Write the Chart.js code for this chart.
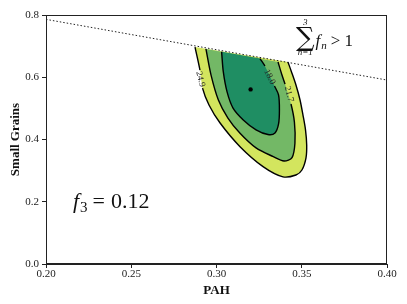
<!DOCTYPE html>
<html>
<head>
<meta charset="utf-8">
<script src="https://cdn.jsdelivr.net/npm/chart.js@4/dist/chart.umd.min.js"></script>
<style>
  html, body { margin: 0; padding: 0; background: #fff; }
  #wrap { width: 407px; height: 304px; }
</style>
</head>
<body>
<div id="wrap"><canvas id="chart" width="407" height="304"></canvas></div>
<script>
// contour levels
const levels = ['24.9', '21.7', '18.0'];
const levelColors = ['#d3e55e', '#73b866', '#1f8e63'];

// outer contour (24.9), from top-left round the bottom to top-right
const outerX = [0.2874, 0.2903, 0.2918, 0.2956, 0.3021, 0.3138, 0.3273, 0.3390, 0.3466, 0.3501, 0.3525, 0.3529, 0.3522, 0.3507, 0.3490, 0.3466, 0.3440, 0.3419];
const outerY = [0.697, 0.623, 0.565, 0.511, 0.453, 0.377, 0.313, 0.280, 0.286, 0.302, 0.341, 0.382, 0.431, 0.479, 0.527, 0.575, 0.617, 0.649];

// middle contour (21.7)
const middleX = [0.2938, 0.2968, 0.3011, 0.3067, 0.3138, 0.3232, 0.3333, 0.3396, 0.3443, 0.3460, 0.3457, 0.3437, 0.3402, 0.3384, 0.3361];
const middleY = [0.691, 0.607, 0.527, 0.469, 0.420, 0.373, 0.345, 0.331, 0.342, 0.388, 0.456, 0.514, 0.578, 0.607, 0.649];

// inner contour (18.0)
const innerX = [0.3030, 0.3040, 0.3062, 0.3097, 0.3157, 0.3232, 0.3302, 0.3343, 0.3364, 0.3369, 0.3364, 0.3340, 0.3284, 0.3255];
const innerY = [0.682, 0.617, 0.553, 0.501, 0.463, 0.431, 0.416, 0.421, 0.450, 0.495, 0.543, 0.572, 0.636, 0.660];

// segment of each contour line left open for its label
const labelGaps = [1, 11, 11];
const labelX = [0.2906, 0.3425, 0.3312];
const labelY = [0.594, 0.546, 0.601];
const labelAngle = [76, 75, 64];

// best fit and the sum(f_n) = 1 boundary
const bestX = [0.320];
const bestY = [0.561];
const limitX = [0.20, 0.40];
const limitY = [0.786, 0.591];

const xTicks = [0.20, 0.25, 0.30, 0.35, 0.40];
const yTicks = [0.0, 0.2, 0.4, 0.6, 0.8];

function toPoints(xs, ys) {
    return xs.map((v, i) => ({x: v, y: ys[i]}));
}

// filled band, no outline
function bandSet(xs, ys, k) {
    return {
        data: toPoints(xs, ys),
        showLine: true,
        fill: 'shape',
        backgroundColor: levelColors[k],
        borderColor: 'rgba(0,0,0,0)',
        borderWidth: 0,
        tension: 0.3,
        pointRadius: 0,
        order: 20 - k
    };
}

// contour line with a break where the label sits
function lineSet(xs, ys, k) {
    return {
        data: toPoints(xs, ys),
        showLine: true,
        fill: false,
        borderColor: '#000',
        borderWidth: 1.4,
        tension: 0.3,
        pointRadius: 0,
        order: 5,
        segment: {
            borderColor: c => c.p0DataIndex === labelGaps[k] ? 'rgba(0,0,0,0)' : '#000'
        }
    };
}

const serif = "'Liberation Serif', 'Times New Roman', serif";
const ink = '#222';

const extras = {
    id: 'extras',
    afterDatasetsDraw(chart) {
        const {ctx, chartArea: a, scales: {x, y}} = chart;
        ctx.save();

        // top and right spines
        ctx.strokeStyle = ink;
        ctx.lineWidth = 1;
        ctx.strokeRect(a.left + 0.5, a.top + 0.5, a.right - a.left - 1, a.bottom - a.top - 1);

        // contour labels
        ctx.fillStyle = ink;
        ctx.font = `9px ${serif}`;
        ctx.textAlign = 'center';
        ctx.textBaseline = 'middle';
        levels.forEach((t, i) => {
            ctx.save();
            ctx.translate(x.getPixelForValue(labelX[i]), y.getPixelForValue(labelY[i]));
            ctx.rotate(labelAngle[i] * Math.PI / 180);
            ctx.fillText(t, 0, 0);
            ctx.restore();
        });

        // f_3 = 0.12
        ctx.fillStyle = '#111';
        ctx.textAlign = 'left';
        ctx.textBaseline = 'alphabetic';
        let px = x.getPixelForValue(0.2158);
        const py = y.getPixelForValue(0.180);
        ctx.font = `italic 22px ${serif}`;
        ctx.fillText('f', px, py);
        px += ctx.measureText('f').width + 1;
        ctx.font = `15px ${serif}`;
        ctx.fillText('3', px, py + 4);
        px += ctx.measureText('3').width + 5;
        ctx.font = `22px ${serif}`;
        ctx.fillText('=', px, py);
        px += ctx.measureText('=').width + 6;
        ctx.fillText('0.12', px, py);

        // sum_{n=1}^{3} f_n > 1
        const sx = x.getPixelForValue(0.3466);
        const sy = 46;
        ctx.font = `26px 'DejaVu Serif', serif`;
        ctx.textAlign = 'center';
        const sw = ctx.measureText('\u2211').width;
        ctx.fillText('\u2211', sx + sw / 2, sy);
        ctx.font = `italic 9px ${serif}`;
        ctx.fillText('3', sx + sw / 2, sy - 21);
        ctx.fillText('n=1', sx + sw / 2, sy + 9);
        ctx.textAlign = 'left';
        let tx = sx + sw + 1;
        ctx.font = `italic 17px ${serif}`;
        ctx.fillText('f', tx, sy);
        tx += ctx.measureText('f').width + 1;
        ctx.font = `italic 11px ${serif}`;
        ctx.fillText('n', tx, sy + 3);
        tx += ctx.measureText('n').width + 4;
        ctx.font = `17px ${serif}`;
        ctx.fillText('> 1', tx, sy);

        ctx.restore();
    }
};

const ctx = document.getElementById('chart').getContext('2d');
new Chart(ctx, {
    type: 'scatter',
    data: {
        datasets: [
            bandSet(outerX, outerY, 0),
            bandSet(middleX, middleY, 1),
            bandSet(innerX, innerY, 2),
            lineSet(outerX, outerY, 0),
            lineSet(middleX, middleY, 1),
            lineSet(innerX, innerY, 2),
            {
                data: toPoints(limitX, limitY),
                showLine: true,
                borderColor: ink,
                borderWidth: 1,
                borderDash: [1.5, 2],
                pointRadius: 0,
                order: 1
            },
            {
                data: toPoints(bestX, bestY),
                pointRadius: 2.2,
                pointBackgroundColor: '#000',
                pointBorderWidth: 0,
                order: 0
            }
        ]
    },
    options: {
        responsive: false,
        animation: false,
        layout: { padding: { top: 15, right: 20, left: 0, bottom: 0 } },
        plugins: { legend: { display: false }, tooltip: { enabled: false } },
        scales: {
            x: {
                type: 'linear',
                min: 0.2,
                max: 0.4,
                afterBuildTicks: s => { s.ticks = xTicks.map(v => ({value: v})); },
                afterFit: s => { s.height = 40; },
                ticks: {
                    callback: v => v.toFixed(2),
                    color: ink,
                    font: { family: serif, size: 11 },
                    padding: 0,
                    maxRotation: 0
                },
                grid: { drawOnChartArea: false, tickLength: 4, color: ink },
                border: { color: ink },
                title: {
                    display: true,
                    text: 'PAH',
                    color: '#111',
                    font: { family: serif, size: 13, weight: 'bold' },
                    padding: { top: 0, bottom: 6 }
                }
            },
            y: {
                type: 'linear',
                min: 0,
                max: 0.8,
                afterBuildTicks: s => { s.ticks = yTicks.map(v => ({value: v})); },
                afterFit: s => { s.width = 46; },
                ticks: {
                    callback: v => v.toFixed(1),
                    color: ink,
                    font: { family: serif, size: 11 },
                    padding: 3
                },
                grid: { drawOnChartArea: false, tickLength: 4, color: ink },
                border: { color: ink },
                title: {
                    display: true,
                    text: 'Small Grains',
                    color: '#111',
                    font: { family: serif, size: 13, weight: 'bold' },
                    padding: { top: 8, bottom: 0 }
                }
            }
        }
    },
    plugins: [extras]
});
</script>
</body>
</html>
